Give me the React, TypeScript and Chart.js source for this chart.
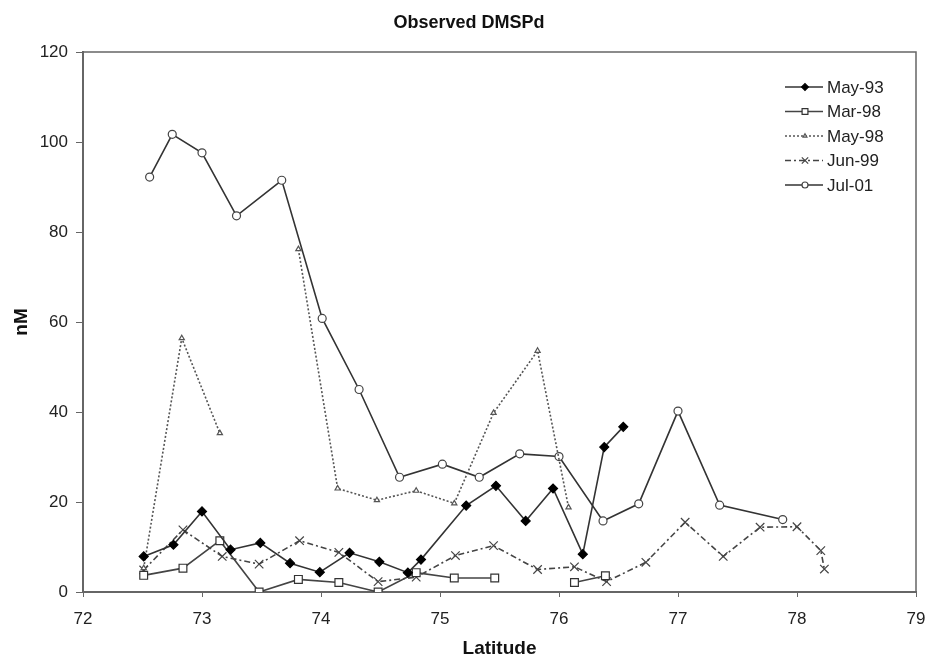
import React, { useEffect, useRef } from "react";
import { Chart, registerables } from "chart.js";
import { drawPoint } from "chart.js/helpers";

Chart.register(...registerables);

const chartTitle = "Observed DMSPd";
const xTitle = "Latitude";
const yTitle = "nM";

const seriesNames = ["May-93", "Mar-98", "May-98", "Jun-99", "Jul-01"];

const may93Lat = [72.51, 72.76, 73.0, 73.24, 73.49, 73.74, 73.99, 74.24, 74.49, 74.73, 74.84, 75.22, 75.47, 75.72, 75.95, 76.2, 76.38, 76.54];
const may93Val = [7.9, 10.5, 17.9, 9.4, 10.9, 6.4, 4.4, 8.7, 6.7, 4.3, 7.2, 19.2, 23.6, 15.8, 23.0, 8.4, 32.2, 36.7];

const mar98Lat = [72.51, 72.84, 73.15, 73.48, 73.81, 74.15, 74.48, 74.8, 75.12, 75.46, 75.8, 76.13, 76.39];
const mar98Val = [3.7, 5.3, 11.4, 0, 2.8, 2.1, 0, 4.3, 3.1, 3.1, null, 2.1, 3.6];

const may98Lat = [72.51, 72.83, 73.15, 73.5, 73.81, 74.14, 74.47, 74.8, 75.12, 75.45, 75.82, 76.08];
const may98Val = [5.3, 56.4, 35.3, null, 76.2, 23.0, 20.4, 22.5, 19.7, 39.8, 53.6, 18.8];

const jun99Lat = [72.51, 72.84, 73.17, 73.48, 73.82, 74.15, 74.48, 74.8, 75.13, 75.45, 75.82, 76.13, 76.4, 76.73, 77.06, 77.38, 77.69, 78.0, 78.2, 78.23];
const jun99Val = [4.9, 13.8, 7.9, 6.2, 11.4, 8.8, 2.3, 3.3, 8.1, 10.3, 5.0, 5.6, 2.3, 6.6, 15.5, 7.9, 14.4, 14.5, 9.2, 5.1];

const jul01Lat = [72.56, 72.75, 73.0, 73.29, 73.67, 74.01, 74.32, 74.66, 75.02, 75.33, 75.67, 76.0, 76.37, 76.67, 77.0, 77.35, 77.88];
const jul01Val = [92.2, 101.7, 97.6, 83.6, 91.5, 60.8, 45.0, 25.5, 28.4, 25.5, 30.7, 30.1, 15.8, 19.6, 40.2, 19.3, 16.1];

const FONT = "'Liberation Sans', Arial, sans-serif";

function pts(lat: number[], val: (number | null)[]) {
  return lat.map((x, i) => ({ x, y: val[i] }));
}

const overlay = {
  id: "overlay",
  afterDraw(chart: any) {
    const { ctx, chartArea } = chart;
    ctx.save();
    ctx.strokeStyle = "#666";
    ctx.lineWidth = 1.5;
    ctx.beginPath();
    ctx.moveTo(chartArea.left, chartArea.top);
    ctx.lineTo(chartArea.right, chartArea.top);
    ctx.lineTo(chartArea.right, chartArea.bottom);
    ctx.stroke();
    ctx.fillStyle = "#111";
    ctx.font = `bold 18px ${FONT}`;
    ctx.textAlign = "center";
    ctx.textBaseline = "middle";
    ctx.fillText(chartTitle, 469, 23);
    chart.data.datasets.forEach((ds: any, i: number) => {
      const y = 87 + i * 24.5;
      ctx.strokeStyle = ds.borderColor;
      ctx.lineWidth = ds.borderWidth;
      ctx.setLineDash(ds.borderDash || []);
      ctx.beginPath();
      ctx.moveTo(785, y);
      ctx.lineTo(823, y);
      ctx.stroke();
      ctx.setLineDash([]);
      ctx.fillStyle = ds.pointBackgroundColor;
      ctx.strokeStyle = ds.pointBorderColor;
      ctx.lineWidth = 1.2;
      drawPoint(ctx, { pointStyle: ds.pointStyle, radius: ds.pointRadius * 0.75, rotation: 0, borderWidth: 1.2 }, 805, y);
      ctx.fillStyle = "#222";
      ctx.font = `17px ${FONT}`;
      ctx.textAlign = "left";
      ctx.textBaseline = "middle";
      ctx.fillText(ds.label, 827, y + 1);
    });
    ctx.restore();
  },
};

export default function App() {
  const ref = useRef<HTMLCanvasElement>(null);
  useEffect(() => {
    if (!ref.current) return;
    const common = { showLine: true, borderWidth: 1.6, spanGaps: false, pointBorderWidth: 1.2, pointHoverRadius: 0 };
    const chart = new Chart(ref.current, {
      type: "scatter",
      data: {
        datasets: [
          { ...common, label: seriesNames[0], data: pts(may93Lat, may93Val), borderColor: "#333", pointStyle: "rectRot", pointRadius: 4.5, pointBackgroundColor: "#000", pointBorderColor: "#000" },
          { ...common, label: seriesNames[1], data: pts(mar98Lat, mar98Val), borderColor: "#444", pointStyle: "rect", pointRadius: 5.5, pointBackgroundColor: "#fff", pointBorderColor: "#333" },
          { ...common, label: seriesNames[2], data: pts(may98Lat, may98Val), borderColor: "#555", borderDash: [2, 2], pointStyle: "triangle", pointRadius: 3, pointBackgroundColor: "#fff", pointBorderColor: "#555" },
          { ...common, label: seriesNames[3], data: pts(jun99Lat, jun99Val), borderColor: "#444", borderDash: [6, 3, 2, 3], pointStyle: "crossRot", pointRadius: 6, pointBackgroundColor: "#444", pointBorderColor: "#444" },
          { ...common, label: seriesNames[4], data: pts(jul01Lat, jul01Val), borderColor: "#333", pointStyle: "circle", pointRadius: 4, pointBackgroundColor: "#fff", pointBorderColor: "#444" },
        ],
      } as any,
      options: {
        animation: false,
        responsive: false,
        events: [],
        layout: { padding: { top: 52, right: 11, left: 0, bottom: 0 } },
        plugins: { legend: { display: false }, tooltip: { enabled: false }, title: { display: false } },
        scales: {
          x: {
            type: "linear",
            min: 72,
            max: 79,
            ticks: { stepSize: 1, color: "#222", font: { family: FONT, size: 17 }, padding: 12 },
            grid: { drawOnChartArea: false, drawTicks: true, tickLength: 5, color: "#666" },
            border: { display: true, color: "#666", width: 2 },
            title: { display: true, text: xTitle, color: "#111", font: { family: FONT, size: 19, weight: "bold", lineHeight: 1 }, padding: { top: 0, bottom: 0 } },
            afterFit: (s: any) => { s.height = 66; s.paddingLeft = 0; s.paddingRight = 0; },
          },
          y: {
            type: "linear",
            min: 0,
            max: 120,
            ticks: { stepSize: 20, color: "#222", font: { family: FONT, size: 17 }, padding: 8 },
            grid: { drawOnChartArea: false, drawTicks: true, tickLength: 7, color: "#666" },
            border: { display: true, color: "#666", width: 2 },
            title: { display: true, text: yTitle, color: "#111", font: { family: FONT, size: 19, weight: "bold", lineHeight: 1 }, padding: { top: 12, bottom: 0 } },
            afterFit: (s: any) => { s.width = 83; s.paddingTop = 0; s.paddingBottom = 0; },
          },
        },
      } as any,
      plugins: [overlay],
    });
    return () => chart.destroy();
  }, []);
  return (
    <div style={{ position: "absolute", left: 0, top: 0, width: 927, height: 658, background: "#fff" }}>
      <canvas ref={ref} width={927} height={658} style={{ display: "block" }} />
    </div>
  );
}
